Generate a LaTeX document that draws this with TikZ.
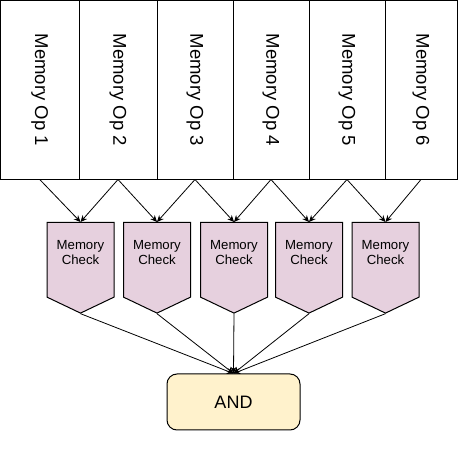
\documentclass[tikz,border=0pt]{standalone}
\usepackage{fontspec}
\setmainfont{Liberation Sans}
\usepackage{graphicx}
\usepackage{tikz}
\usetikzlibrary{arrows.meta}
\usetikzlibrary{shapes.symbols}
\definecolor{checkpink}{HTML}{E6D0DE}
\definecolor{andyellow}{HTML}{FFF2CC}

\begin{document}
\begin{tikzpicture}[x=0.75pt, y=-0.75pt,
    opbox/.style={draw, line width=0.75pt, rectangle, minimum height=133.9pt, inner sep=0pt,
        font=\fontsize{13.9}{16}\selectfont},
    checkbox/.style={draw, line width=0.75pt, fill=checkpink, shape=signal, signal to=south,
        signal from=nowhere, signal pointer angle=129, minimum width=50.25pt, minimum height=64.5pt,
        inner sep=0pt, anchor=north, align=center, text depth=11pt,
        font=\fontsize{9.9}{11.25}\selectfont},
    andbox/.style={draw, line width=0.75pt, fill=andyellow, rounded corners=7.5pt,
        minimum width=99.75pt, minimum height=42pt, font=\fontsize{13.5}{16}\selectfont},
    flow/.style={-{Stealth[length=5pt, width=4.5pt]}, line width=0.6pt}
]
    \useasboundingbox (0,0) rectangle (458,452);

    % Memory operations
    \node[opbox, minimum width=58.9pt] (op1) at (39.75,89.75) {\rotatebox{-90}{Memory Op 1}};
    \node[opbox, minimum width=58.5pt] (op2) at (118,89.75) {\rotatebox{-90}{Memory Op 2}};
    \node[opbox, minimum width=57pt] (op3) at (195,89.75) {\rotatebox{-90}{Memory Op 3}};
    \node[opbox, minimum width=57pt] (op4) at (271,89.75) {\rotatebox{-90}{Memory Op 4}};
    \node[opbox, minimum width=57pt] (op5) at (347,89.75) {\rotatebox{-90}{Memory Op 5}};
    \node[opbox, minimum width=54pt] (op6) at (421,89.75) {\rotatebox{-90}{Memory Op 6}};

    % Checks
    \node[checkbox] (chk1) at (80.5,222) {Memory\\Check};
    \node[checkbox] (chk2) at (157,222) {Memory\\Check};
    \node[checkbox] (chk3) at (234,222) {Memory\\Check};
    \node[checkbox] (chk4) at (309,222) {Memory\\Check};
    \node[checkbox] (chk5) at (385.5,222) {Memory\\Check};

    % Result
    \node[andbox] (and) at (233.5,402) {AND};

    % Ops into checks
    \draw[flow] (op1.south) -- (chk1.north);
    \draw[flow] (op2.south) -- (chk1.north);
    \draw[flow] (op2.south) -- (chk2.north);
    \draw[flow] (op3.south) -- (chk2.north);
    \draw[flow] (op3.south) -- (chk3.north);
    \draw[flow] (op4.south) -- (chk3.north);
    \draw[flow] (op4.south) -- (chk4.north);
    \draw[flow] (op5.south) -- (chk4.north);
    \draw[flow] (op5.south) -- (chk5.north);
    \draw[flow] (op6.south) -- (chk5.north);

    % Checks into AND
    \draw[flow] (chk1.south) -- (and.north);
    \draw[flow] (chk2.south) -- (and.north);
    \draw[flow] (chk3.south) -- (and.north);
    \draw[flow] (chk4.south) -- (and.north);
    \draw[flow] (chk5.south) -- (and.north);
\end{tikzpicture}
\end{document}
